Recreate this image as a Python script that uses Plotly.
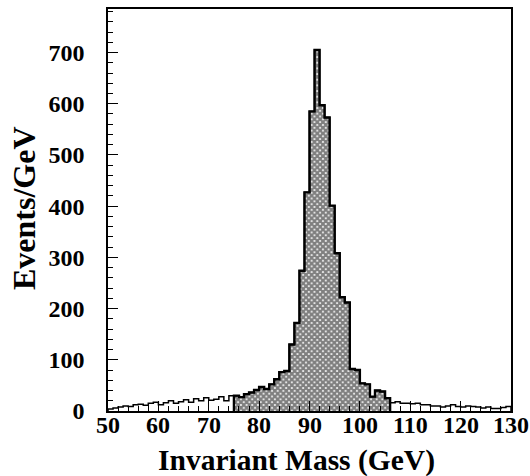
import numpy as np
import plotly.graph_objects as go

bin_lo = 50
bin_hi = 130
counts = [4, 6, 8, 10, 9, 12, 13, 11, 15, 17,
          12, 16, 20, 15, 18, 22, 17, 24, 20, 26,
          21, 23, 28, 20, 30, 30, 27, 33, 36, 41,
          47, 43, 52, 62, 76, 78, 130, 172, 274, 427,
          585, 705, 597, 573, 401, 308, 222, 212, 82, 80,
          54, 52, 28, 40, 38, 25, 16, 18, 15, 15,
          14, 15, 12, 12, 10, 10, 8, 10, 12, 9,
          8, 10, 9, 8, 6, 8, 5, 5, 7, 9]
sel_lo = 75
sel_hi = 106
x_ticks = [50, 60, 70, 80, 90, 100, 110, 120, 130]
y_ticks = [0, 100, 200, 300, 400, 500, 600, 700]

edges = np.arange(bin_lo, bin_hi + 1)
centers = edges[:-1] + 0.5
counts = np.array(counts)
mask = (edges[:-1] >= sel_lo) & (edges[:-1] < sel_hi)

fig = go.Figure()
fig.add_trace(go.Bar(
    x=centers[mask], y=counts[mask], width=1,
    marker=dict(color="white", line=dict(width=0),
                pattern=dict(shape="x", fgcolor="black", bgcolor="white",
                             size=4, solidity=0.8)),
    showlegend=False))

# full-range step outline
sx = np.concatenate([[edges[0]], edges[:-1], [edges[-1]], [edges[-1]]])
sy = np.concatenate([[0], counts, [counts[-1]], [0]])
fig.add_trace(go.Scatter(x=sx, y=sy, mode="lines", line=dict(shape="hv", color="black", width=1.5),
                         showlegend=False))

# thicker outline for the selected region
se = edges[:-1][mask]
sc = counts[mask]
hx = np.concatenate([[se[0]], se, [sel_hi], [sel_hi]])
hy = np.concatenate([[0], sc, [sc[-1]], [0]])
fig.add_trace(go.Scatter(x=hx, y=hy, mode="lines", line=dict(shape="hv", color="black", width=2.4),
                         showlegend=False))

font = "Liberation Serif"
annotations = [
    dict(text="<b>Invariant Mass (GeV)</b>", xref="paper", yref="paper",
         x=(296 - 108) / 403, y=-(461 - 411) / 404, xanchor="center", yanchor="middle",
         showarrow=False, font=dict(family=font, size=29.5, color="black")),
    dict(text="<b>Events/GeV</b>", xref="paper", yref="paper",
         x=-(108 - 24) / 403, y=(411 - 207) / 404, xanchor="center", yanchor="middle",
         textangle=-90, showarrow=False, font=dict(family=font, size=32, color="black")),
]
for t in x_ticks:
    annotations.append(dict(text=f"<b>{t}</b>", x=t, xref="x", yref="paper",
                            y=-(425 - 411) / 404, xanchor="center", yanchor="middle",
                            showarrow=False, font=dict(family=font, size=24, color="black")))

fig.update_layout(
    width=530, height=476,
    margin=dict(l=108, r=19, t=7, b=65),
    paper_bgcolor="white", plot_bgcolor="white",
    bargap=0,
    xaxis=dict(range=[bin_lo, bin_hi], tickvals=x_ticks, ticks="inside", ticklen=10,
               tickwidth=1.2, tickcolor="black", showticklabels=False,
               minor=dict(dtick=2, ticks="inside", ticklen=5, tickcolor="black", tickwidth=1),
               showline=True, linecolor="black", linewidth=1.5, mirror=True,
               showgrid=False, zeroline=False),
    yaxis=dict(range=[0, 785], tickvals=y_ticks, ticks="inside", ticklen=10,
               tickwidth=1.2, tickcolor="black",
               minor=dict(dtick=20, ticks="inside", ticklen=5, tickcolor="black", tickwidth=1),
               showline=True, linecolor="black", linewidth=1.5, mirror=True,
               showgrid=False, zeroline=False, ticklabelstandoff=17,
               tickfont=dict(family=font, size=24, color="black", weight="bold")),
    annotations=annotations,
)
fig.write_html("out.html")
